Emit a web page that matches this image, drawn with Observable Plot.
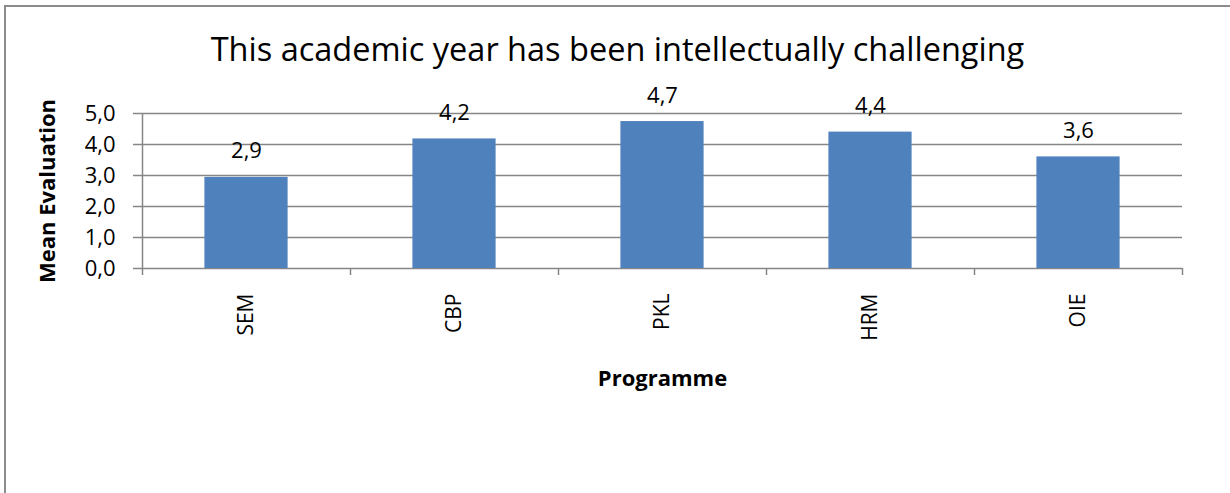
<!DOCTYPE html>
<html>
<head>
<meta charset="utf-8">
<script src="https://cdn.jsdelivr.net/npm/d3@7"></script>
<script src="https://cdn.jsdelivr.net/npm/@observablehq/plot@0.6"></script>
<style>
  html, body { margin: 0; padding: 0; background: #fff; }
  #wrap { position: relative; width: 1230px; height: 493px; overflow: hidden; font-family: "Open Sans", sans-serif; }
  #frame { position: absolute; left: 4px; top: 5px; width: 1240px; height: 500px; border-top: 2px solid #8c8c8c; border-left: 2px solid #8c8c8c; box-sizing: border-box; }
  #title { position: absolute; left: 5px; width: 1225px; top: 33px; text-align: center; font-size: 32.5px; line-height: 1; color: #000; white-space: nowrap; }
  #chart { position: absolute; left: 0; top: 80px; }
</style>
</head>
<body>
<div id="wrap">
  <div id="frame"></div>
  <div id="title"></div>
  <div id="chart"></div>
</div>
<script>
const titleText = "This academic year has been intellectually challenging";
const categories = ["SEM", "CBP", "PKL", "HRM", "OIE"];
const values = [2.94, 4.18, 4.74, 4.40, 3.60];
const yTicks = [0, 1, 2, 3, 4, 5];
const yLabel = "Mean Evaluation";
const xLabel = "Programme";

document.getElementById("title").textContent = titleText;

const fmt = v => v.toFixed(1).replace(".", ",");
const rows = categories.map((c, i) => ({category: c, i, value: values[i]}));
const barInset = 0.3;
const gray = "#868686";

const chart = Plot.plot({
  width: 1230,
  height: 413,
  marginTop: 33,
  marginBottom: 225,
  marginLeft: 142,
  marginRight: 48,
  style: {fontFamily: "'Open Sans', sans-serif", fontSize: "22px", color: "#000", background: "transparent", overflow: "visible"},
  x: {domain: [0, categories.length]},
  y: {domain: [0, 5]},
  marks: [
    Plot.gridY(yTicks, {stroke: gray, strokeOpacity: 1, strokeWidth: 1.5}),
    Plot.rectY(rows, {x1: d => d.i + barInset, x2: d => d.i + 1 - barInset, y1: 0, y2: "value", fill: "#4f81bd"}),
    Plot.text(rows, {x: d => d.i + 0.5, y: "value", text: d => fmt(d.value), dy: -26, fontSize: 22, fill: "#000"}),
    Plot.ruleX([0], {y1: 0, y2: 5, stroke: gray, strokeWidth: 1.5}),
    Plot.axisY({ticks: yTicks, tickFormat: fmt, tickSize: 9, tickPadding: 18, stroke: gray, strokeWidth: 1.5, label: null, fontSize: 22}),
    Plot.axisX({ticks: d3.range(categories.length + 1), tickSize: 7, tickFormat: () => "", stroke: gray, strokeWidth: 1.5, label: null}),
    Plot.axisX({ticks: categories.map((c, i) => i + 0.5), tickFormat: v => categories[Math.floor(v)], tickRotate: -90, tickSize: 0, tickPadding: 25, label: null, fontSize: 21}),
    Plot.text([yLabel], {frameAnchor: "left", textAnchor: "middle", lineAnchor: "middle", rotate: -90, dx: -95, fontWeight: "bold", fontSize: 22, text: d => d}),
    Plot.text([xLabel], {frameAnchor: "bottom", textAnchor: "middle", lineAnchor: "middle", dy: 110, fontWeight: "bold", fontSize: 22, text: d => d})
  ]
});
document.getElementById("chart").appendChild(chart);
</script>
</body>
</html>
